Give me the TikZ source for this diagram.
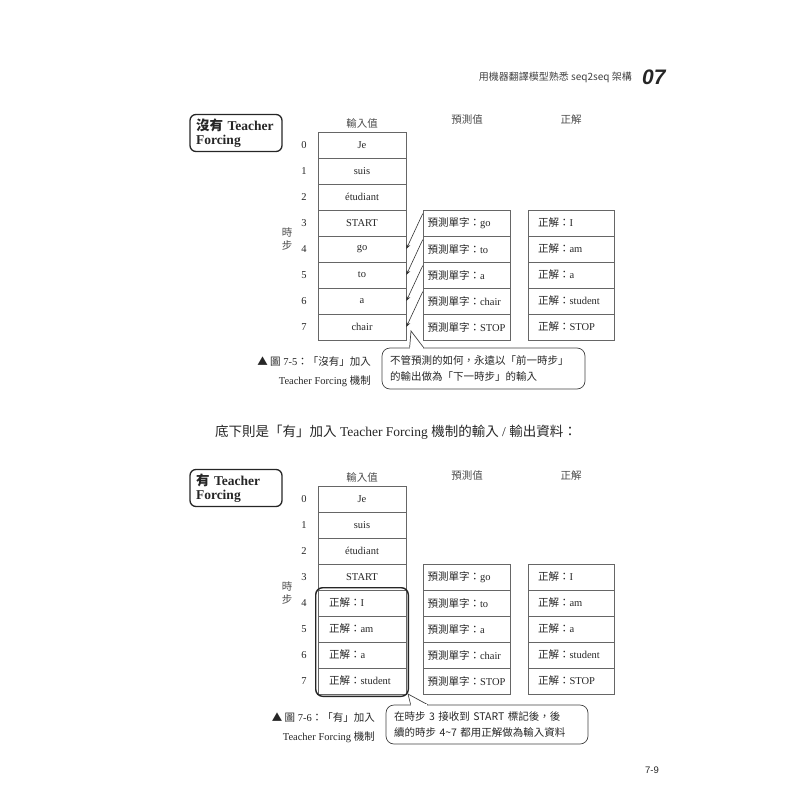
\documentclass[tikz,border=0pt]{standalone}
\usepackage{fontspec}
\setmainfont{Liberation Serif}
\newfontfamily\cjk{Noto Sans CJK TC}
\newfontfamily\hsans{Liberation Sans}
\usetikzlibrary{arrows.meta,calc,fit}
\newcommand{\zh}[1]{{\cjk #1}}
\begin{document}
\begin{tikzpicture}[x=1pt,y=-1pt,
  every node/.style={inner sep=0pt, text=black!85},
  cell/.style={draw=black!60, line width=0.6pt, minimum width=88pt, minimum height=26pt, font=\fontsize{10.5}{12}\selectfont},
  predcell/.style={cell, minimum width=87pt, text width=78pt, align=left},
  corcell/.style={cell, minimum width=86pt, text width=66pt, align=left},
  incor/.style={cell, text width=66pt, align=left},
  rownum/.style={font=\fontsize{10.5}{12}\selectfont},
  colhead/.style={font=\cjk\fontsize{10.5}{12}\selectfont, text=black!70},
  titlebox/.style={draw=black!85, line width=1.3pt, rounded corners=6pt, minimum width=92pt, minimum height=37pt, text width=80pt, align=left, font=\bfseries\fontsize{13.5}{14.5}\selectfont},
  callout/.style={draw=black!75, line width=0.7pt, rounded corners=8pt, align=left, font=\cjk\fontsize{10.5}{16}\selectfont},
  caption/.style={anchor=east, align=right, font=\fontsize{10.5}{19}\selectfont},
  arr/.style={draw=black!80, line width=0.6pt, -{Stealth[length=5pt,width=4pt]}},
  ptr/.style={draw=black!75, line width=0.7pt, fill=white}
]
\useasboundingbox (0,0) rectangle (800,800);

% header
\node[anchor=east, font=\cjk\fontsize{10}{11}\selectfont, text=black!75] (hdr) at (632,77) {用機器翻譯模型熟悉 seq2seq 架構};
\node[anchor=west, font=\hsans\bfseries\itshape\fontsize{21}{22}\selectfont] (chap) at (642,77) {07};

% ================= top section =================
\node[titlebox] (t1) at (236,133) {\zh{沒有} Teacher\\Forcing};
\node[colhead] (h1a) at (362,123) {輸入值};
\node[colhead] (h1b) at (467,120) {預測值};
\node[colhead] (h1c) at (571,120) {正解};
\node[colhead, align=center, font=\cjk\fontsize{10.5}{13}\selectfont] (ts1) at (287,239) {時\\步};

\foreach \i/\t in {0/Je,1/suis,2/étudiant,3/START,4/go,5/to,6/a,7/chair}{
  \node[rownum] (n\i) at (304,{145+26*\i}) {\i};
  \node[cell] (i\i) at (362,{145+26*\i}) {\t};
}
\foreach \i/\t in {3/go,4/to,5/a,6/chair,7/STOP}{
  \node[predcell] (p\i) at (466.5,{145+26*\i}) {\zh{預測單字：}\t};
}
\foreach \i/\t in {3/I,4/am,5/a,6/student,7/STOP}{
  \node[corcell] (c\i) at (571,{145+26*\i}) {\zh{正解：}\t};
}
\foreach \i/\j in {3/4,4/5,5/6,6/7}{
  \draw[arr] ($(p\i.north west)+(0,4)$) -- (i\j.east);
}

\node[callout, minimum width=203pt, minimum height=41pt, text width=187pt] (co1) at (483.5,368.5) {不管預測的如何，永遠以「前一時步」\\的輸出做為「下一時步」的輸入};
\coordinate (tip1) at (411,331);
\path[ptr] ($(co1.north west)+(28,0)$) -- (tip1) -- ($(co1.north west)+(42,0)$);
\fill[white] ($(co1.north west)+(28.6,-0.2)$) rectangle ($(co1.north west)+(41.4,1)$);

\node[caption] (cap1) at (371,371.5) {\zh{▲ 圖} 7-5\zh{：「沒有」加入}\\Teacher Forcing \zh{機制}};

% middle sentence
\node[anchor=west, font=\fontsize{13.5}{15}\selectfont] (mid) at (215,432) {\zh{底下則是「有」加入} Teacher Forcing \zh{機制的輸入} / \zh{輸出資料：}};

% ================= bottom section =================
\node[titlebox] (t2) at (236,488) {\zh{有} Teacher\\Forcing};
\node[colhead] (h2a) at (362,477) {輸入值};
\node[colhead] (h2b) at (467,476) {預測值};
\node[colhead] (h2c) at (571,476) {正解};
\node[colhead, align=center, font=\cjk\fontsize{10.5}{13}\selectfont] (ts2) at (287,593) {時\\步};

\foreach \i/\t in {0/Je,1/suis,2/étudiant,3/START}{
  \node[rownum] (m\i) at (304,{499+26*\i}) {\i};
  \node[cell] (j\i) at (362,{499+26*\i}) {\t};
}
\foreach \i/\t in {4/I,5/am,6/a,7/student}{
  \node[rownum] (m\i) at (304,{499+26*\i}) {\i};
  \node[incor] (j\i) at (362,{499+26*\i}) {\zh{正解：}\t};
}
\foreach \i/\t in {3/go,4/to,5/a,6/chair,7/STOP}{
  \node[predcell] (q\i) at (466.5,{499+26*\i}) {\zh{預測單字：}\t};
}
\foreach \i/\t in {3/I,4/am,5/a,6/student,7/STOP}{
  \node[corcell] (d\i) at (571,{499+26*\i}) {\zh{正解：}\t};
}
\node[fit=(j4)(j7), draw=black!85, line width=1.4pt, rounded corners=7pt, inner sep=2pt] (grp) {};

\node[callout, minimum width=202pt, minimum height=39pt, text width=186pt] (co2) at (487,724.5) {在時步 3 接收到 START 標記後，後\\續的時步 4\textasciitilde7 都用正解做為輸入資料};
\coordinate (tip2) at (408,694);
\path[ptr] ($(co2.north west)+(25,0)$) -- (tip2) -- ($(co2.north west)+(42,0)$);
\fill[white] ($(co2.north west)+(25.6,-0.2)$) rectangle ($(co2.north west)+(41.4,1)$);

\node[caption] (cap2) at (375,728) {\zh{▲ 圖} 7-6\zh{：「有」加入}\\Teacher Forcing \zh{機制}};

% page number
\node[font=\hsans\fontsize{9.5}{11}\selectfont] (pg) at (652,770) {7-9};
\end{tikzpicture}
\end{document}
